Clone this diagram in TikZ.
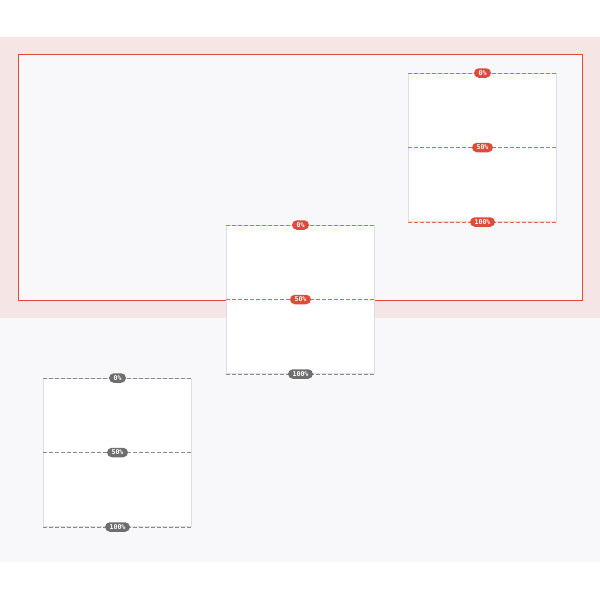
\documentclass[tikz,border=0pt]{standalone}
\usepackage{fontspec}
\newfontfamily\pillfont{DejaVu Sans Mono}
\definecolor{bandpink}{HTML}{F5E6E5}
\definecolor{panelgray}{HTML}{F8F8FA}
\definecolor{framered}{HTML}{E04A36}
\definecolor{linered}{HTML}{E2665A}
\definecolor{pillred}{HTML}{DD4B39}
\definecolor{pillgray}{HTML}{6E6E6E}
\definecolor{linegray}{HTML}{8C8C8C}
\definecolor{boxedge}{HTML}{DEDDE4}
\begin{document}
\begin{tikzpicture}[x=1pt,y=-1pt,
  box/.style={draw=boxedge,fill=white,line width=1pt,minimum size=148pt,inner sep=0pt},
  cutline/.style={draw=#1,dash pattern=on 4pt off 2pt,line width=1pt},
  pill/.style={fill=#1,text=white,rounded corners=4.7pt,inner xsep=4.5pt,inner ysep=0pt,
    minimum height=9.5pt,text height=4.9pt,text depth=0pt,
    font=\pillfont\bfseries\fontsize{6.6}{6.6}\selectfont}]
\useasboundingbox (0,0) rectangle (600,600);
% page bands
\fill[bandpink] (0,37) rectangle (600,318);
\fill[panelgray] (0,318) rectangle (600,562);
\draw[framered,fill=panelgray,line width=1pt] (18.5,54.5) rectangle (582.5,300.5);
% boxes
\node[box] (right) at (482.5,147.5) {};
\node[box] (mid) at (300.5,299.5) {};
\node[box] (left) at (117.5,452.5) {};
% right box, all red
\draw[cutline=linered] (right.north west) -- (right.north east);
\draw[cutline=linered] (right.west) -- (right.east);
\draw[cutline=linered] (right.south west) -- (right.south east);
\node[pill=pillred] (r0) at (right.north) {0\%};
\node[pill=pillred] (r50) at (right.center) {50\%};
\node[pill=pillred] (r100) at (right.south) {100\%};
% middle box
\draw[cutline=linered] (mid.north west) -- (mid.north east);
\draw[cutline=linered] (mid.west) -- (mid.east);
\draw[cutline=linegray] (mid.south west) -- (mid.south east);
\node[pill=pillred] (m0) at (mid.north) {0\%};
\node[pill=pillred] (m50) at (mid.center) {50\%};
\node[pill=pillgray] (m100) at (mid.south) {100\%};
% left box, all gray
\draw[cutline=linegray] (left.north west) -- (left.north east);
\draw[cutline=linegray] (left.west) -- (left.east);
\draw[cutline=linegray] (left.south west) -- (left.south east);
\node[pill=pillgray] (l0) at (left.north) {0\%};
\node[pill=pillgray] (l50) at (left.center) {50\%};
\node[pill=pillgray] (l100) at (left.south) {100\%};
\end{tikzpicture}
\end{document}
